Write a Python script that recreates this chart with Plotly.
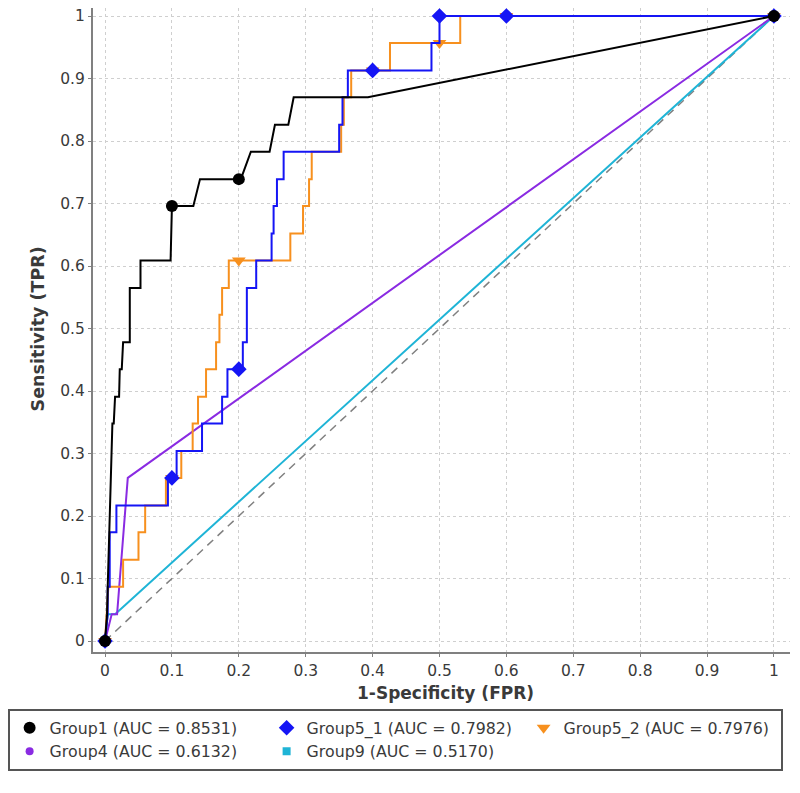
import plotly.graph_objects as go

# ---------------- data ----------------
g1_fpr = [0, 0.003, 0.004, 0.005, 0.006, 0.007, 0.009, 0.010, 0.011, 0.013, 0.015, 0.021, 0.022, 0.025,
          0.027, 0.030, 0.037, 0.037, 0.053, 0.053, 0.098, 0.100, 0.132, 0.142, 0.203, 0.218, 0.246,
          0.254, 0.274, 0.282, 0.393, 1.0]
g1_tpr = [0, 0.043, 0.087, 0.130, 0.174, 0.217, 0.261, 0.304, 0.348, 0.348, 0.391, 0.391, 0.435, 0.435,
          0.478, 0.478, 0.478, 0.565, 0.565, 0.609, 0.609, 0.696, 0.696, 0.739, 0.739, 0.783, 0.783,
          0.826, 0.826, 0.870, 0.870, 1.0]
g1_mk_fpr = [0, 0.1, 0.2, 1.0]
g1_mk_tpr = [0, 0.696, 0.739, 1.0]

g51_fpr = [0, 0.004, 0.004, 0.007, 0.007, 0.017, 0.017, 0.094, 0.094, 0.107, 0.107, 0.145, 0.145,
           0.175, 0.175, 0.183, 0.183, 0.206, 0.206, 0.212, 0.212, 0.226, 0.226, 0.249, 0.249, 0.252,
           0.252, 0.257, 0.257, 0.267, 0.267, 0.350, 0.350, 0.355, 0.355, 0.363, 0.363, 0.488, 0.488,
           0.500, 0.500, 1.0]
g51_tpr = [0, 0.043, 0.087, 0.087, 0.174, 0.174, 0.217, 0.217, 0.261, 0.261, 0.304, 0.304, 0.348,
           0.348, 0.391, 0.391, 0.435, 0.435, 0.478, 0.478, 0.565, 0.565, 0.609, 0.609, 0.652, 0.652,
           0.696, 0.696, 0.739, 0.739, 0.783, 0.783, 0.826, 0.826, 0.870, 0.870, 0.913, 0.913, 0.957,
           0.957, 1.0, 1.0]
g51_mk_fpr = [0, 0.1, 0.2, 0.4, 0.5, 0.6, 1.0]
g51_mk_tpr = [0, 0.261, 0.435, 0.913, 1.0, 1.0, 1.0]

g52_fpr = [0, 0.003, 0.005, 0.027, 0.027, 0.050, 0.050, 0.060, 0.060, 0.091, 0.091, 0.114, 0.114,
           0.131, 0.131, 0.139, 0.139, 0.151, 0.151, 0.166, 0.166, 0.171, 0.171, 0.175, 0.175, 0.185,
           0.185, 0.277, 0.277, 0.296, 0.296, 0.305, 0.305, 0.309, 0.309, 0.353, 0.353, 0.357, 0.357,
           0.368, 0.368, 0.426, 0.426, 0.531, 0.531, 1.0]
g52_tpr = [0, 0.043, 0.087, 0.087, 0.130, 0.130, 0.174, 0.174, 0.217, 0.217, 0.261, 0.261, 0.304,
           0.304, 0.348, 0.348, 0.391, 0.391, 0.435, 0.435, 0.478, 0.478, 0.522, 0.522, 0.565, 0.565,
           0.609, 0.609, 0.652, 0.652, 0.696, 0.696, 0.739, 0.739, 0.783, 0.783, 0.826, 0.826, 0.870,
           0.870, 0.913, 0.913, 0.957, 0.957, 1.0, 1.0]
g52_mk_fpr = [0, 0.1, 0.2, 0.4, 0.5, 0.6, 1.0]
g52_mk_tpr = [0, 0.261, 0.609, 0.913, 0.957, 1.0, 1.0]

g4_fpr = [0, 0.010, 0.018, 0.034, 1.0]
g4_tpr = [0, 0.043, 0.043, 0.261, 1.0]
g4_mk_fpr = [0, 1.0]
g4_mk_tpr = [0, 1.0]

g9_fpr = [0, 0.004, 0.015, 1.0]
g9_tpr = [0, 0.043, 0.043, 1.0]
g9_mk_fpr = [0, 1.0]
g9_mk_tpr = [0, 1.0]

ref_x = [0, 1]
ref_y = [0, 1]

labels = {
    "g1": "Group1 (AUC = 0.8531)",
    "g51": "Group5_1 (AUC = 0.7982)",
    "g52": "Group5_2 (AUC = 0.7976)",
    "g4": "Group4 (AUC = 0.6132)",
    "g9": "Group9 (AUC = 0.5170)",
}
x_title = "1-Specificity (FPR)"
y_title = "Sensitivity (TPR)"
ticks = [0, 0.1, 0.2, 0.3, 0.4, 0.5, 0.6, 0.7, 0.8, 0.9, 1]
tick_text = ["0", "0.1", "0.2", "0.3", "0.4", "0.5", "0.6", "0.7", "0.8", "0.9", "1"]

# ---------------- styles ----------------
C1 = "#000000"
C51 = "#1515F5"
C52 = "#F7901E"
C4 = "#8A2BE2"
C9 = "#1FB4D6"
FONT = "DejaVu Sans"
TXT = "#3a3a3a"

W, H = 800, 793
ML, MR, MT, MB = 88, 10, 8, 141
PW, PH = W - ML - MR, H - MT - MB

fig = go.Figure()

fig.add_trace(go.Scatter(x=ref_x, y=ref_y, mode="lines", showlegend=False, hoverinfo="skip",
                         line=dict(color="#808080", width=1.5, dash="8px,6px")))

def add_group(key, fx, fy, mx, my, color, symbol, size, rank, lw=2):
    fig.add_trace(go.Scatter(x=fx, y=fy, mode="lines", showlegend=False,
                             line=dict(color=color, width=lw), name=labels[key]))
    fig.add_trace(go.Scatter(x=mx, y=my, mode="markers", name=labels[key], legendrank=rank,
                             marker=dict(color=color, symbol=symbol, size=size,
                                         line=dict(width=0))))

add_group("g9", g9_fpr, g9_tpr, g9_mk_fpr, g9_mk_tpr, C9, "square", 8, 5)
add_group("g4", g4_fpr, g4_tpr, g4_mk_fpr, g4_mk_tpr, C4, "circle", 8, 4)
add_group("g52", g52_fpr, g52_tpr, g52_mk_fpr, g52_mk_tpr, C52, "triangle-down", 12, 3)
add_group("g51", g51_fpr, g51_tpr, g51_mk_fpr, g51_mk_tpr, C51, "diamond", 12, 2)
add_group("g1", g1_fpr, g1_tpr, g1_mk_fpr, g1_mk_tpr, C1, "circle", 12, 1)

axis_common = dict(
    tickmode="array", tickvals=ticks, ticktext=tick_text, automargin=False,
    showgrid=True, gridcolor="#cfcfcf", griddash="dot", gridwidth=1,
    zeroline=False, showline=True, linecolor="#808080", linewidth=2,
    ticks="outside", ticklen=3, tickcolor="#808080", tickwidth=1,
    tickfont=dict(family=FONT, size=15.5, color=TXT),
)

fig.update_xaxes(range=[-0.018, 1.024], **axis_common)
fig.update_yaxes(range=[-0.0176, 1.0128], **axis_common)

fig.add_annotation(text="<b>" + x_title + "</b>", xref="paper", yref="paper",
                   x=(443 - ML) / PW, y=(H - MB - 693) / PH, xanchor="center", yanchor="middle",
                   showarrow=False, font=dict(family=FONT, size=17, color=TXT))
fig.add_annotation(text="<b>" + y_title + "</b>", xref="paper", yref="paper", textangle=-90,
                   x=(33 - ML) / PW, y=(H - MB - 329) / PH, xanchor="center", yanchor="middle",
                   showarrow=False, font=dict(family=FONT, size=17.5, color=TXT))

fig.update_layout(
    width=W, height=H,
    margin=dict(l=ML, r=MR, t=MT, b=MB),
    paper_bgcolor="white", plot_bgcolor="white",
    font=dict(family=FONT, color=TXT),
    legend=dict(orientation="h", x=(2 - ML) / PW, xanchor="left",
                y=(H - MB - 709) / PH, yanchor="top",
                bordercolor="#555555", borderwidth=2, bgcolor="white",
                font=dict(family=FONT, size=15.8, color=TXT),
                entrywidth=212, entrywidthmode="pixels", itemwidth=30,
                traceorder="normal"),
)

fig.write_html("out.html",
               config={"displayModeBar": False},
               post_script="document.body.style.margin='0px';"
                           "document.body.style.overflow='hidden';")
